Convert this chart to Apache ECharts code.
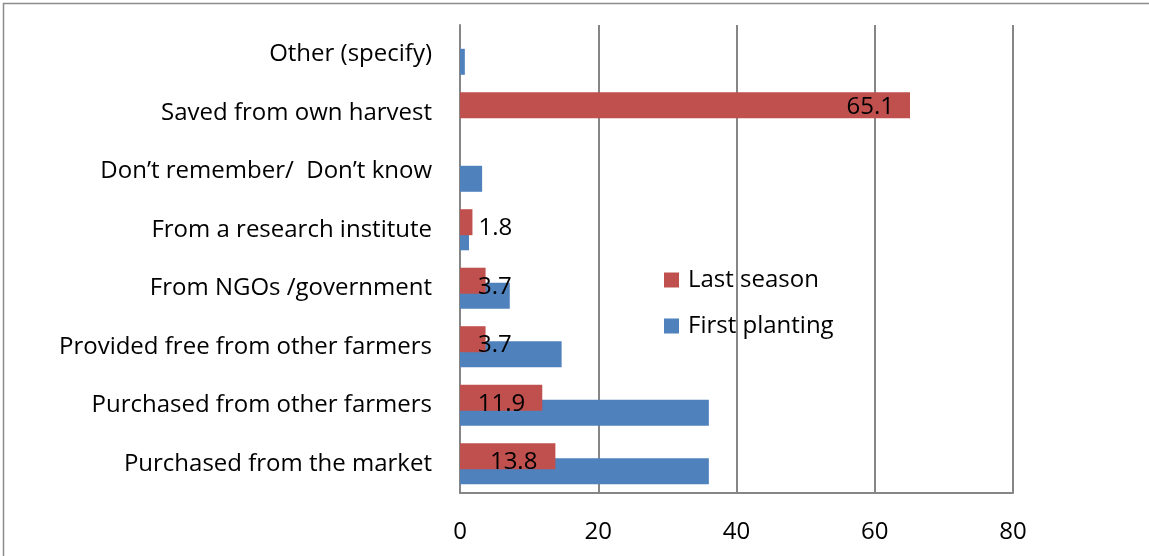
<!DOCTYPE html>
<html>
<head>
<meta charset="utf-8">
<script src="https://cdn.jsdelivr.net/npm/echarts@6/dist/echarts.min.js"></script>
<style>html,body{margin:0;padding:0;background:#fff}#c{width:1149px;height:556px}</style>
</head>
<body>
<div id="c"></div>
<script>
const categories = ['Purchased from the market','Purchased from other farmers','Provided free from other farmers','From NGOs /government','From a research institute','Don\u2019t remember/  Don\u2019t know','Saved from own harvest','Other (specify)'];
const firstPlanting = [36.0, 36.0, 14.7, 7.2, 1.3, 3.2, 0, 0.7];
const lastSeason = [13.8, 11.9, 3.7, 3.7, 1.8, 0, 65.1, 0];
const xTicks = [0, 20, 40, 60, 80];

const FONT = 'Open Sans';
const labelCfg = [
  {position:'insideRight', distance:18, offset:[0,6]},
  {position:'insideRight', distance:17, offset:[0,6]},
  {position:'insideLeft', distance:18, offset:[0,6]},
  {position:'insideLeft', distance:18, offset:[0,6]},
  {position:'right', distance:6, offset:[0,6]},
  {show:false},
  {position:'insideRight', distance:16, offset:[0,2]},
  {show:false}
];
const lastData = lastSeason.map((v,i)=>({value:v, label:Object.assign({show:true}, labelCfg[i])}));

const chart = echarts.init(document.getElementById('c'));
chart.setOption({
  animation:false,
  textStyle:{fontFamily:FONT},
  graphic:[{type:'rect', shape:{x:3.5,y:3.5,width:1300,height:700}, style:{fill:'none', stroke:'#8c8c8c', lineWidth:1.5}, silent:true}],
  grid:{left:460, right:136, top:25, bottom:63, containLabel:false},
  legend:{
    orient:'vertical', left:659, top:259, itemWidth:15, itemHeight:15, itemGap:14,
    icon:'rect', data:['Last season','First planting'],
    textStyle:{fontFamily:FONT, fontSize:24, color:'#000', lineHeight:32, padding:[0,0,0,4]}
  },
  xAxis:{
    type:'value', min:xTicks[0], max:xTicks[xTicks.length-1], interval:20,
    axisLine:{show:true, lineStyle:{color:'#868686', width:2}},
    axisTick:{show:false},
    splitLine:{show:true, lineStyle:{color:'#868686', width:2}},
    axisLabel:{fontFamily:FONT, fontSize:24, color:'#000', margin:27}
  },
  yAxis:{
    type:'category', data:categories,
    axisLine:{show:true, lineStyle:{color:'#868686', width:2}},
    axisTick:{show:false},
    axisLabel:{fontFamily:FONT, fontSize:24, color:'#000', margin:28, padding:[12,0,0,0]}
  },
  series:[
    {name:'Last season', type:'bar', data:lastData, barWidth:26, barGap:'-42%', z:3, itemStyle:{color:'#c0504d'},
     label:{show:true, fontFamily:FONT, fontSize:24, color:'#000'}},
    {name:'First planting', type:'bar', data:firstPlanting, barWidth:26, barGap:'-42%', z:2, itemStyle:{color:'#4f81bd'}}
  ]
});
</script>
</body>
</html>
